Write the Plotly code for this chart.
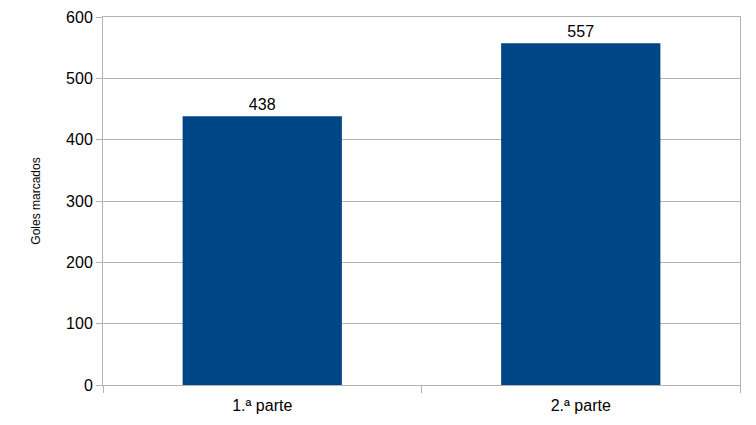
import plotly.graph_objects as go

partes = ['1.ª parte', '2.ª parte']
goles = [438, 557]

AXIS_GREY = '#b3b3b3'

fig = go.Figure(go.Bar(
	x=partes,
	y=goles,
	width=0.5,
	marker=dict(color='#004586', line=dict(width=0)),
	text=goles,
	textposition='outside',
	textfont=dict(size=16, color='#000000'),
	cliponaxis=False
))

# page has an 8px body margin, so margins are shifted to compensate
fig.update_layout(
	width=756, height=425,
	margin=dict(l=95, r=24, t=9, b=48),
	paper_bgcolor='white',
	plot_bgcolor='white',
	font=dict(family='Liberation Sans, Arial, sans-serif', size=16, color='#000000'),
	showlegend=False,
	bargap=0.5
)

fig.update_xaxes(
	tickson='boundaries',
	ticks='outside', ticklen=7, tickcolor=AXIS_GREY,
	ticklabelstandoff=6,
	showline=True, linecolor=AXIS_GREY, mirror=True,
	showgrid=False, automargin=False
)

fig.update_yaxes(
	range=[0, 600], dtick=100,
	ticks='outside', ticklen=6, tickcolor=AXIS_GREY,
	showline=True, linecolor=AXIS_GREY, mirror=True,
	showgrid=True, gridcolor=AXIS_GREY,
	zeroline=False, automargin=False,
	title=dict(text='Goles marcados', font=dict(size=12), standoff=22)
)

fig.write_html('out.html')
